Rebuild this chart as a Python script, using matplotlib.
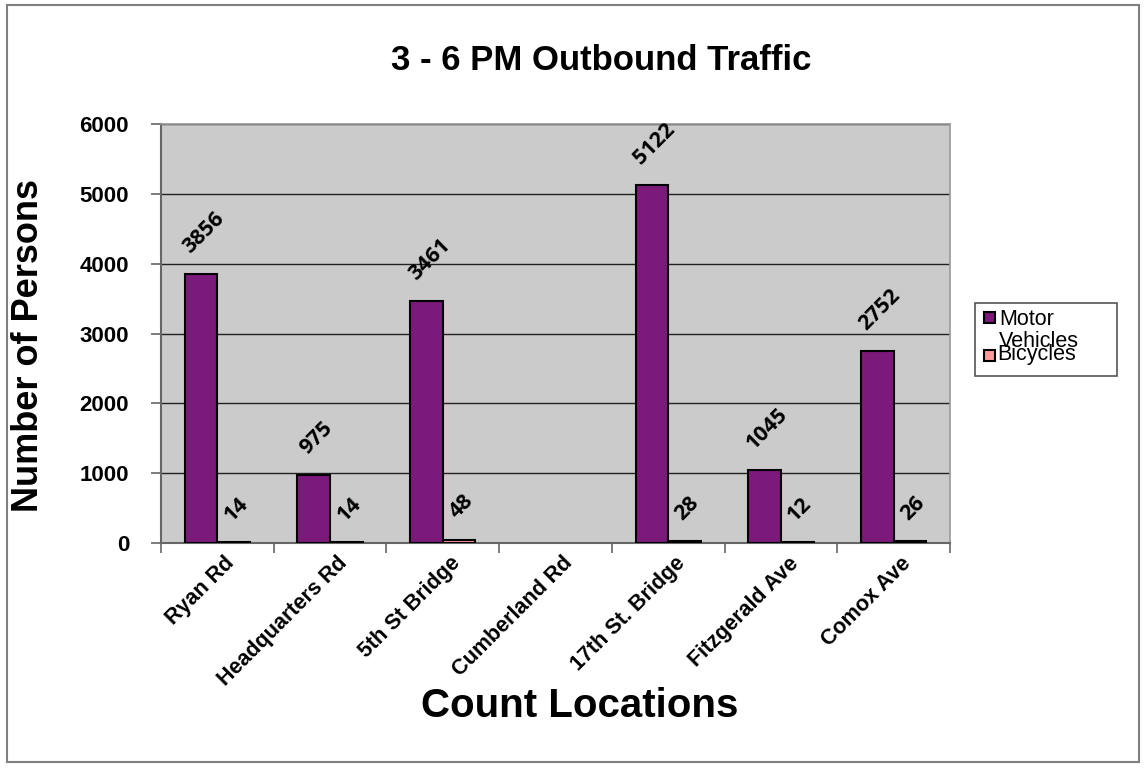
import numpy as np
import matplotlib.pyplot as plt
from matplotlib.patches import Rectangle

# values
locations = ['Ryan Rd', 'Headquarters Rd', '5th St Bridge', 'Cumberland Rd',
             '17th St. Bridge', 'Fitzgerald Ave', 'Comox Ave']
motor_vehicles = [3856, 975, 3461, np.nan, 5122, 1045, 2752]
bicycles = [14, 14, 48, np.nan, 28, 12, 26]
y_ticks = [0, 1000, 2000, 3000, 4000, 5000, 6000]
series_names = ['Motor\nVehicles', 'Bicycles']

MOTOR_COLOR = '#7B1A7A'
BIKE_COLOR = '#FF9999'

W, H = 1146, 768
plt.rcParams['font.family'] = ['Liberation Sans', 'DejaVu Sans']
fig = plt.figure(figsize=(W / 100, H / 100), dpi=100)


def fx(px):
    return px / W


def fy(py):
    return 1 - py / H


# outer chart frame
fig.patches.append(Rectangle((fx(7), fy(762)), fx(1139 - 7), (762 - 5) / H,
                             transform=fig.transFigure, fill=False,
                             edgecolor='#808080', linewidth=1.5))

ax = fig.add_axes([fx(161), fy(543), fx(950 - 161), (543 - 124) / H])
ax.set_facecolor('#CBCBCB')

x = np.arange(len(locations))
width = 0.29
bars1 = ax.bar(x - 0.145, motor_vehicles, width, color=MOTOR_COLOR,
               edgecolor='black', linewidth=1.5, zorder=3)
bars2 = ax.bar(x + 0.145, bicycles, width, color=BIKE_COLOR,
               edgecolor='black', linewidth=1.5, zorder=3)

# rotated data labels
for bars, vals in ((bars1, motor_vehicles), (bars2, bicycles)):
    for b, v in zip(bars, vals):
        if np.isnan(v):
            continue
        ax.annotate(f'{v:.0f}', (b.get_x() + b.get_width() / 2, v),
                    xytext=(2, 12), textcoords='offset points',
                    ha='center', va='bottom', rotation=45,
                    fontsize=15.5, fontweight='bold', family='Open Sans')

ax.set_xlim(-0.5, len(locations) - 0.5)
ax.set_ylim(0, 6000)
ax.set_yticks(y_ticks)
ax.set_yticklabels([str(t) for t in y_ticks], fontsize=16, fontweight='bold')
ax.yaxis.grid(True, color='#222222', linewidth=1)
ax.set_axisbelow(True)

# category labels sit a little right of the category centre, as in the original
ax.set_xticks(x + 0.06)
ax.set_xticklabels(locations, rotation=45, ha='right', rotation_mode='anchor',
                   fontsize=15.5, fontweight='bold')
ax.set_xticks(np.arange(len(locations) + 1) - 0.5, minor=True)
ax.tick_params(axis='x', which='major', length=0, pad=7)
ax.tick_params(axis='x', which='minor', length=7, color='#666666', width=1.2)
ax.tick_params(axis='y', length=7, color='#666666', width=1.2, pad=16)

for side in ('left', 'bottom'):
    ax.spines[side].set_color('#666666')
    ax.spines[side].set_linewidth(1.5)
for side in ('top', 'right'):
    ax.spines[side].set_color('#999999')
    ax.spines[side].set_linewidth(1.2)

fig.text(fx(601), fy(70), '3 - 6 PM Outbound Traffic', ha='center',
         va='baseline', fontsize=25, fontweight='bold')
fig.text(fx(29), fy(345), 'Number of Persons', ha='center', va='center',
         rotation=90, fontsize=26, fontweight='bold')
fig.text(fx(580), fy(717), 'Count Locations', ha='center', va='baseline',
         fontsize=29, fontweight='bold')

# legend box drawn by hand to get the stacked, overlapping entries
fig.patches.append(Rectangle((fx(975), fy(376)), fx(1117 - 975), (376 - 303) / H,
                             transform=fig.transFigure, facecolor='white',
                             edgecolor='#555555', linewidth=1.2))
legend_rows = [(MOTOR_COLOR, series_names[0], 312), (BIKE_COLOR, series_names[1], 350)]
for color, name, top in legend_rows:
    fig.patches.append(Rectangle((fx(984), fy(top + 11)), fx(11), 11 / H,
                                 transform=fig.transFigure, facecolor=color,
                                 edgecolor='black', linewidth=1.5))
fig.text(fx(999), fy(325), 'Motor', ha='left', va='baseline', fontsize=15.5)
fig.text(fx(999), fy(347), 'Vehicles', ha='left', va='baseline', fontsize=15.5)
fig.text(fx(997), fy(360), 'Bicycles', ha='left', va='baseline', fontsize=15.5)

fig.savefig('out.png', dpi=100)
